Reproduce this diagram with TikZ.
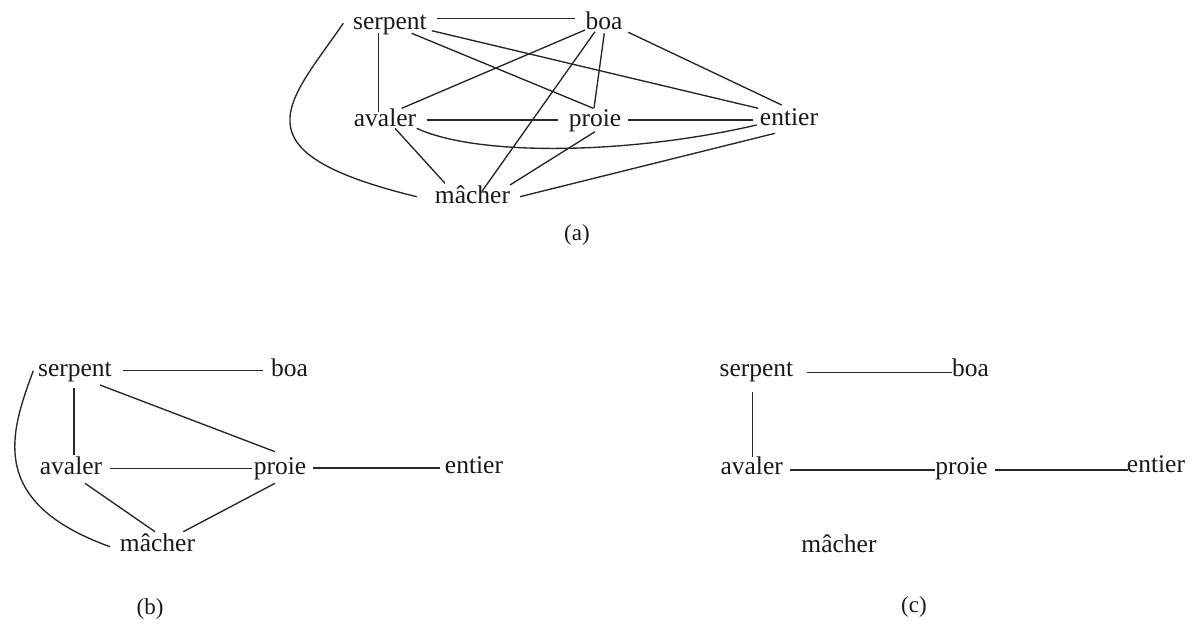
\documentclass[tikz,border=0pt]{standalone}
\usepackage{fontspec}
\setmainfont{Liberation Serif}
\usetikzlibrary{calc}
\begin{document}
\begin{tikzpicture}[x=1pt,y=-1pt,
  word/.style={font=\fontsize{25.5}{30}\selectfont, inner sep=0pt, anchor=base, text=black!90},
  tag/.style={font=\fontsize{23}{27}\selectfont, inner sep=0pt, text=black!90},
  link/.style={line width=1.35pt, black!85}]
\useasboundingbox (0,0) rectangle (1195,626);
% ---------- (a)
\node[word] (sa) at (390,29.3) {serpent};
\node[word] (ba) at (604,29.3) {boa};
\node[word] (aa) at (385,126.7) {avaler};
\node[word] (pa) at (595,126.7) {proie};
\node[word] (ea) at (789,125) {entier};
\node[word] (ma) at (472.5,203.3) {mâcher};
\node[tag] (la) at (577,235) {(a)};
\draw[link] ($(sa.base)+(46.7,-11)$) -- ($(ba.base)+(-29,-11)$);
\draw[link] ($(sa.base)+(-11.7,4)$) -- ($(aa.base)+(-6.7,-15)$);
\draw[link] ($(sa.base)+(21.7,4)$) -- ($(pa.base)+(-1.7,-18.4)$);
\draw[link] ($(sa.base)+(41.7,1.4)$) -- ($(ea.base)+(-30.7,-16.7)$);
\draw[link] ($(ba.base)+(-19,0.7)$) -- ($(aa.base)+(16.7,-18.4)$);
\draw[link] ($(ba.base)+(-9,2.4)$) -- ($(ma.base)+(9.2,-11.6)$);
\draw[link] ($(ba.base)+(0.3,4)$) -- ($(pa.base)+(-1,-18.4)$);
\draw[link] ($(ba.base)+(24.3,3)$) -- ($(ea.base)+(-7.3,-20)$);
\draw[link] ($(aa.base)+(41.7,-6.7)$) -- ($(pa.base)+(-36.7,-6.7)$);
\draw[link] ($(pa.base)+(33.3,-6.7)$) -- ($(ea.base)+(-35.7,-5)$);
\draw[link] ($(aa.base)+(31.7,1.6)$) .. controls +(60,28) and +(-130,30) .. ($(ea.base)+(-32.3,0)$);
\draw[link] ($(aa.base)+(10,1.6)$) -- ($(ma.base)+(-27.5,-20)$);
\draw[link] ($(pa.base)+(0,5)$) -- ($(ma.base)+(37.5,-18.3)$);
\draw[link] ($(ea.base)+(-14,8.3)$) -- ($(ma.base)+(47.5,-6.6)$);
\draw[link] ($(sa.base)+(-46.7,-6)$) .. controls +(-55,80) and +(-185,-45) .. ($(ma.base)+(-55.8,-6.6)$);
% ---------- (b)
\node[word] (sb) at (75,376) {serpent};
\node[word] (bb) at (289.5,376) {boa};
\node[word] (ab) at (71,474) {avaler};
\node[word] (pb) at (280,474) {proie};
\node[word] (eb) at (474,473) {entier};
\node[word] (mb) at (157.5,551.7) {mâcher};
\node[tag] (lb) at (150,609) {(b)};
\draw[link] ($(sb.base)+(48,-5.3)$) -- ($(bb.base)+(-26.5,-5.3)$);
\draw[link] ($(sb.base)+(-1,12)$) -- ($(ab.base)+(3,-19)$);
\draw[link] ($(sb.base)+(25,9)$) -- ($(pb.base)+(-5,-22.3)$);
\draw[link] ($(ab.base)+(39,-5.7)$) -- ($(pb.base)+(-28.3,-5.7)$);
\draw[link] ($(pb.base)+(33,-6)$) -- ($(eb.base)+(-34,-5)$);
\draw[link] ($(ab.base)+(14,9.3)$) -- ($(mb.base)+(-2.5,-20)$);
\draw[link] ($(pb.base)+(-5,9.3)$) -- ($(mb.base)+(25.8,-20)$);
\draw[link] ($(sb.base)+(-41.7,-5.3)$) .. controls +(-22,60) and +(-125,-45) .. ($(mb.base)+(-47.5,-5)$);
% ---------- (c)
\node[word] (sc) at (756.5,376) {serpent};
\node[word] (bc) at (970.5,376) {boa};
\node[word] (ac) at (751.7,474.3) {avaler};
\node[word] (pc) at (961.5,474) {proie};
\node[word] (ec) at (1156,472.7) {entier};
\node[word] (mc) at (839,552.3) {mâcher};
\node[tag] (lc) at (914,607) {(c)};
\draw[link] ($(sc.base)+(50.2,-3.7)$) -- ($(bc.base)+(-18.8,-3.7)$);
\draw[link] ($(sc.base)+(-3.8,15.7)$) -- ($(ac.base)+(1,-17.6)$);
\draw[link] ($(ac.base)+(38.3,-4.3)$) -- ($(pc.base)+(-26.5,-4)$);
\draw[link] ($(pc.base)+(33.5,-4)$) -- ($(ec.base)+(-28,-2.7)$);
\end{tikzpicture}
\end{document}
